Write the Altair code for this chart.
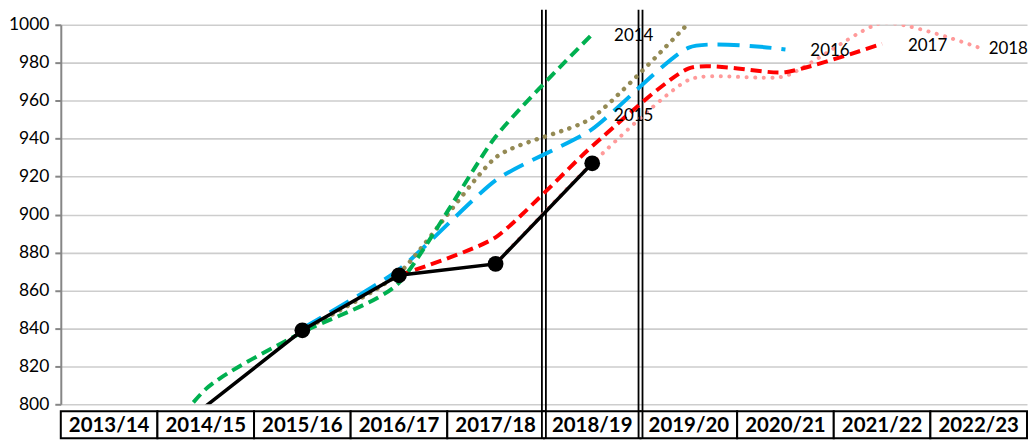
import altair as alt
import pandas as pd

# ---------------- data ----------------
categories = ["2013/14", "2014/15", "2015/16", "2016/17", "2017/18",
              "2018/19", "2019/20", "2020/21", "2021/22", "2022/23"]

actual_years = ["2014/15", "2015/16", "2016/17", "2017/18", "2018/19"]
actual_values = [799, 839, 868, 874, 927]

f2014_years = ["2013/14", "2014/15", "2015/16", "2016/17", "2017/18", "2018/19"]
f2014_values = [745, 808, 838, 864, 941, 995]

f2015_years = ["2015/16", "2016/17", "2017/18", "2018/19", "2019/20"]
f2015_values = [839, 869, 930, 951, 1001]

f2016_years = ["2015/16", "2016/17", "2017/18", "2018/19", "2019/20", "2020/21"]
f2016_values = [840, 871, 918, 945, 988, 987]

f2017_years = ["2016/17", "2017/18", "2018/19", "2019/20", "2020/21", "2021/22"]
f2017_values = [868, 888, 936, 977, 975, 990]

f2018_years = ["2017/18", "2018/19", "2019/20", "2020/21", "2021/22", "2022/23"]
f2018_values = [874, 927, 971, 973, 1001, 988]

label_names = ["2014", "2015", "2016", "2017", "2018"]
label_years = ["2018/19", "2018/19", "2020/21", "2021/22", "2022/23"]
label_values = [994, 952, 986, 989, 987]

double_edges = ["2018/19", "2019/20"]
y_ticks = list(range(800, 1001, 20))

# ---------------- styles ----------------
FONT = "Lato"
W, H, TH = 970, 381, 27
TENSION = 0.4

series = {
    "2018": (f2018_years, f2018_values),
    "2017": (f2017_years, f2017_values),
    "2016": (f2016_years, f2016_values),
    "2015": (f2015_years, f2015_values),
    "2014": (f2014_years, f2014_values),
}
styles = {
    "2014": dict(color="#00B050", strokeDash=[11, 6], strokeWidth=4, strokeCap="butt"),
    "2015": dict(color="#948A54", strokeDash=[0.1, 8.5], strokeWidth=4.5, strokeCap="round"),
    "2016": dict(color="#00B0F0", strokeDash=[22, 10], strokeWidth=4, strokeCap="butt"),
    "2017": dict(color="#FF0000", strokeDash=[11, 6], strokeWidth=4, strokeCap="butt"),
    "2018": dict(color="#FF9A9A", strokeDash=[0.1, 8.5], strokeWidth=4, strokeCap="round"),
}
label_dx = {"2014": 22, "2015": 22, "2016": 25, "2017": 26, "2018": 10}

xscale = alt.Scale(domain=categories, type="band", paddingInner=0, paddingOuter=0)
yscale = alt.Scale(domain=[800, 1000], nice=False, zero=False)

yaxis = alt.Axis(values=y_ticks, title=None, grid=True, format="d",
                 labelFont=FONT, labelFontSize=17.5, labelColor="#000000",
                 labelPadding=6, domainColor="#868686", domainWidth=2,
                 tickColor="#868686", tickWidth=2, tickSize=6,
                 gridColor="#CDCDCD", gridWidth=1.6)

def xc(field="year"):
    return alt.X(f"{field}:N", scale=xscale, axis=None, bandPosition=0.5, sort=categories)

def yc():
    return alt.Y("value:Q", scale=yscale, axis=yaxis)

edges_df = pd.DataFrame({"year": double_edges})

layers = []

# double vertical lines
for off in (-2, 2):
    layers.append(alt.Chart(edges_df).mark_rule(color="black", strokeWidth=1.8, xOffset=off).encode(
        x=alt.X("year:N", scale=xscale, axis=None, bandPosition=0, sort=categories),
        y=alt.value(-15), y2=alt.value(H + 7)))

# forecast lines
for name, (yrs, vals) in series.items():
    df = pd.DataFrame({"year": yrs, "value": vals})
    st = styles[name]
    layers.append(alt.Chart(df).mark_line(
        interpolate="cardinal", tension=TENSION, clip=True, **st).encode(x=xc(), y=yc()))

# actual line + markers
act_df = pd.DataFrame({"year": actual_years, "value": actual_values})
layers.append(alt.Chart(act_df).mark_line(color="black", strokeWidth=3.5, clip=True).encode(
    x=xc(), y=yc()))
layers.append(alt.Chart(act_df).transform_filter("datum.value >= 800").mark_circle(
    color="black", size=250, opacity=1).encode(x=xc(), y=yc()))

# series labels
for nm, yr, v in zip(label_names, label_years, label_values):
    ldf = pd.DataFrame({"year": [yr], "value": [v], "label": [nm]})
    layers.append(alt.Chart(ldf).mark_text(
        font=FONT, fontSize=17, color="black", align="left", baseline="middle",
        dx=label_dx[nm]).encode(x=xc(), y=yc(), text="label:N"))

top = alt.layer(*layers).properties(width=W, height=H)

# ---------------- table of years ----------------
table_df = pd.DataFrame({"year": categories})
cells = alt.Chart(table_df).mark_rect(fill="white", stroke="black", strokeWidth=2).encode(
    x=alt.X("year:N", scale=xscale, axis=None, sort=categories),
    y=alt.value(0), y2=alt.value(TH))
gap_white = alt.Chart(edges_df).mark_rule(color="white", strokeWidth=2.6).encode(
    x=alt.X("year:N", scale=xscale, axis=None, bandPosition=0, sort=categories),
    y=alt.value(1), y2=alt.value(TH - 1))
tbl_layers = [cells, gap_white]
for off in (-2, 2):
    tbl_layers.append(alt.Chart(edges_df).mark_rule(color="black", strokeWidth=1.8, xOffset=off).encode(
        x=alt.X("year:N", scale=xscale, axis=None, bandPosition=0, sort=categories),
        y=alt.value(0), y2=alt.value(TH)))
tbl_layers.append(alt.Chart(table_df).mark_text(
    font=FONT, fontSize=20.5, fontWeight="bold", color="black", baseline="middle").encode(
    x=xc(), y=alt.value(TH / 2 + 1), text="year:N"))
table = alt.layer(*tbl_layers).properties(width=W, height=TH)

chart = alt.vconcat(top, table, spacing=7, bounds="flush").properties(
    padding={"left": 0, "top": 0, "right": 0, "bottom": 0}
).configure_view(stroke=None)

chart.save("out.html", embed_options={"renderer": "svg", "actions": False})
